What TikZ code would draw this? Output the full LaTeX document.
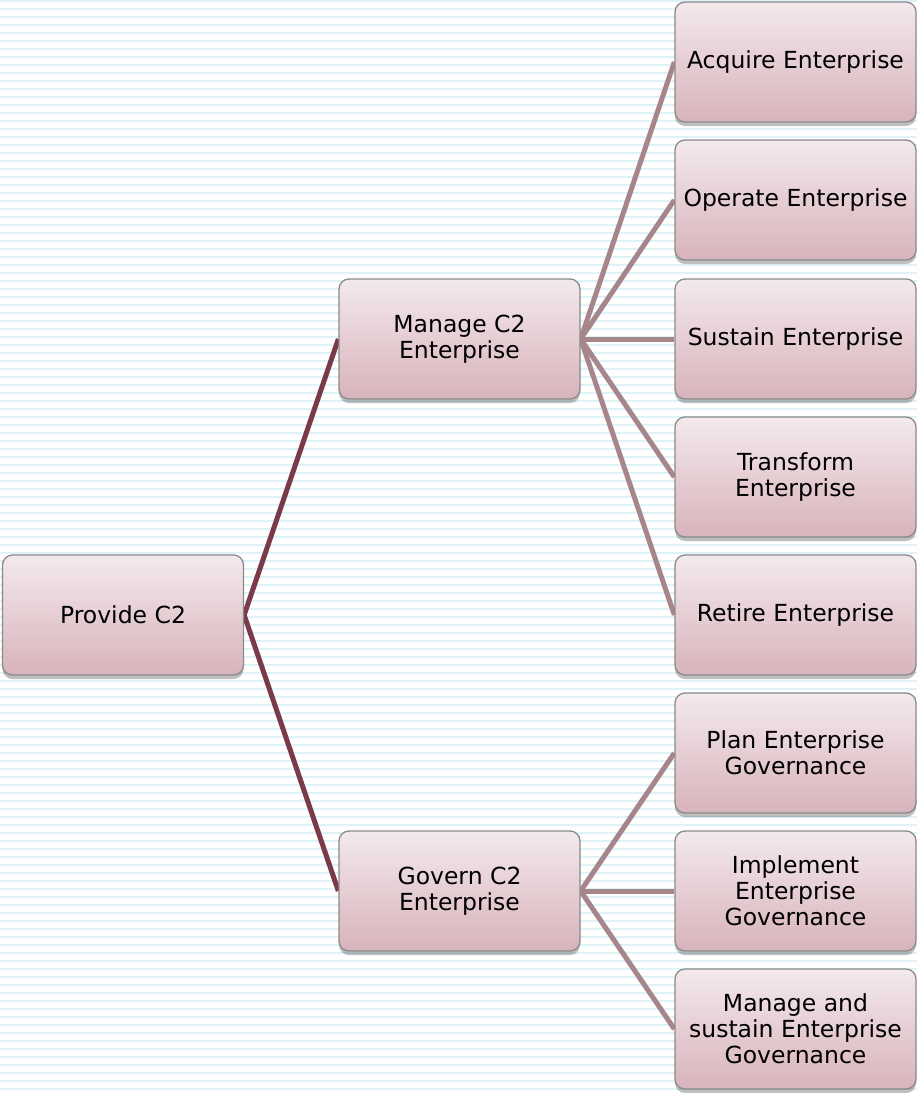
\documentclass[tikz,border=0pt]{standalone}
\usepackage{fontspec}
\setmainfont{DejaVu Sans}
\usetikzlibrary{shadows}
\pgfdeclarelayer{paper}
\pgfdeclarelayer{links}
\pgfsetlayers{paper,links,main}
\definecolor{stripe}{HTML}{DFF2F8}
\definecolor{boxtop}{HTML}{F3E9EC}
\definecolor{boxbot}{HTML}{D8B3BB}
\definecolor{boxedge}{HTML}{8A8A8A}
\definecolor{linkdark}{HTML}{7B3A4A}
\definecolor{linklight}{HTML}{A7868B}
\tikzset{
  box/.style={draw=boxedge, line width=1.3pt, rounded corners=10pt,
    top color=boxtop, bottom color=boxbot,
    minimum width=241pt, minimum height=120pt, inner sep=2pt,
    align=center, font=\fontsize{23.5}{26}\selectfont, text=black,
    drop shadow={shadow xshift=0pt, shadow yshift=-4pt, opacity=0.25, fill=black}},
  linkA/.style={draw=linkdark, line width=5pt},
  linkB/.style={draw=linklight, line width=5pt}
}
\begin{document}
\begin{tikzpicture}[x=1pt,y=-1pt]
\useasboundingbox (0,0) rectangle (917,1093);
\begin{pgfonlayer}{paper}
\fill[white] (0,0) rectangle (917,1093);
\foreach \i in {0,...,136} {
  \fill[stripe] (0,8*\i) rectangle (917,8*\i+2.4);
}
\end{pgfonlayer}
\node[box] (provide) at (123,615) {\raisebox{-2pt}{Provide C2}};
\node[box] (manage) at (459.5,339) {Manage C2\\Enterprise};
\node[box] (govern) at (459.5,891) {Govern C2\\Enterprise};
\node[box] (acquire) at (795.5,62) {\raisebox{-2pt}{Acquire Enterprise}};
\node[box] (operate) at (795.5,200) {\raisebox{-2pt}{Operate Enterprise}};
\node[box] (sustain) at (795.5,339) {\raisebox{-2pt}{Sustain Enterprise}};
\node[box] (transform) at (795.5,477) {Transform\\Enterprise};
\node[box] (retire) at (795.5,615) {\raisebox{-2pt}{Retire Enterprise}};
\node[box] (plan) at (795.5,753) {Plan Enterprise\\Governance};
\node[box] (implement) at (795.5,891) {Implement\\Enterprise\\Governance};
\node[box] (mas) at (795.5,1029) {Manage and\\sustain Enterprise\\Governance};
\begin{pgfonlayer}{links}
\draw[linkA] (provide.east) -- (manage.west);
\draw[linkA] (provide.east) -- (govern.west);
\foreach \c in {acquire,operate,sustain,transform,retire} {
  \draw[linkB] (manage.east) -- (\c.west);
}
\foreach \c in {plan,implement,mas} {
  \draw[linkB] (govern.east) -- (\c.west);
}
\end{pgfonlayer}
\end{tikzpicture}
\end{document}
